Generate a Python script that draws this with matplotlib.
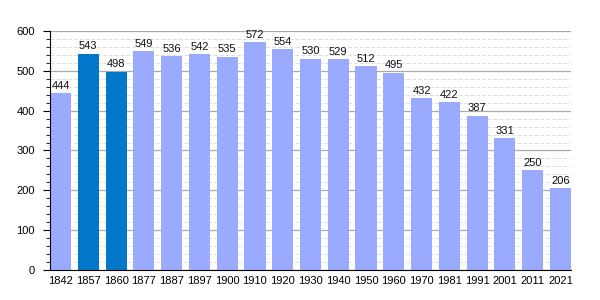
import matplotlib

matplotlib.use("Agg")
import matplotlib.pyplot as plt
import numpy as np
from matplotlib.ticker import MultipleLocator

years = ["1842", "1857", "1860", "1877", "1887", "1897", "1900", "1910", "1920", "1930",
         "1940", "1950", "1960", "1970", "1981", "1991", "2001", "2011", "2021"]
population = [444, 543, 498, 549, 536, 542, 535, 572, 554, 530,
              529, 512, 495, 432, 422, 387, 331, 250, 206]
highlight = ["1857", "1860"]

LIGHT = "#99aaff"
DARK = "#0077c8"

plt.rcParams["font.family"] = ["Liberation Sans", "DejaVu Sans"]

fig = plt.figure(figsize=(6, 3), dpi=100)
ax = fig.add_axes([0.0833, 0.1, 0.8684, 0.7967])

x = np.arange(len(years))
width = 0.76
colors = [DARK if y in highlight else LIGHT for y in years]
ax.bar(x, population, width=width, color=colors, zorder=3)

for xi, v in zip(x, population):
    ax.text(xi, v + 6, str(v), ha="center", va="bottom", fontsize=8, color="#111111", zorder=4)

ax.set_xlim(-width / 2, len(years) - 1 + width / 2)
ax.set_ylim(0, 600)
ax.set_xticks(x)
ax.set_xticklabels(years, fontsize=8)
ax.tick_params(axis="x", length=0, pad=4)

ax.yaxis.set_major_locator(MultipleLocator(100))
ax.yaxis.set_minor_locator(MultipleLocator(20))
ax.tick_params(axis="y", which="major", length=5, labelsize=8, pad=6)
ax.tick_params(axis="y", which="minor", length=3)
ax.grid(axis="y", which="major", color="#aaaaaa", linewidth=0.9, zorder=1)
ax.grid(axis="y", which="minor", color="#dddddd", linewidth=0.7, linestyle=(0, (4, 2)), zorder=1)

for side in ("top", "right"):
    ax.spines[side].set_visible(False)
ax.spines["left"].set_zorder(5)
ax.spines["bottom"].set_zorder(5)

fig.savefig("out.png", dpi=100)
plt.close(fig)
